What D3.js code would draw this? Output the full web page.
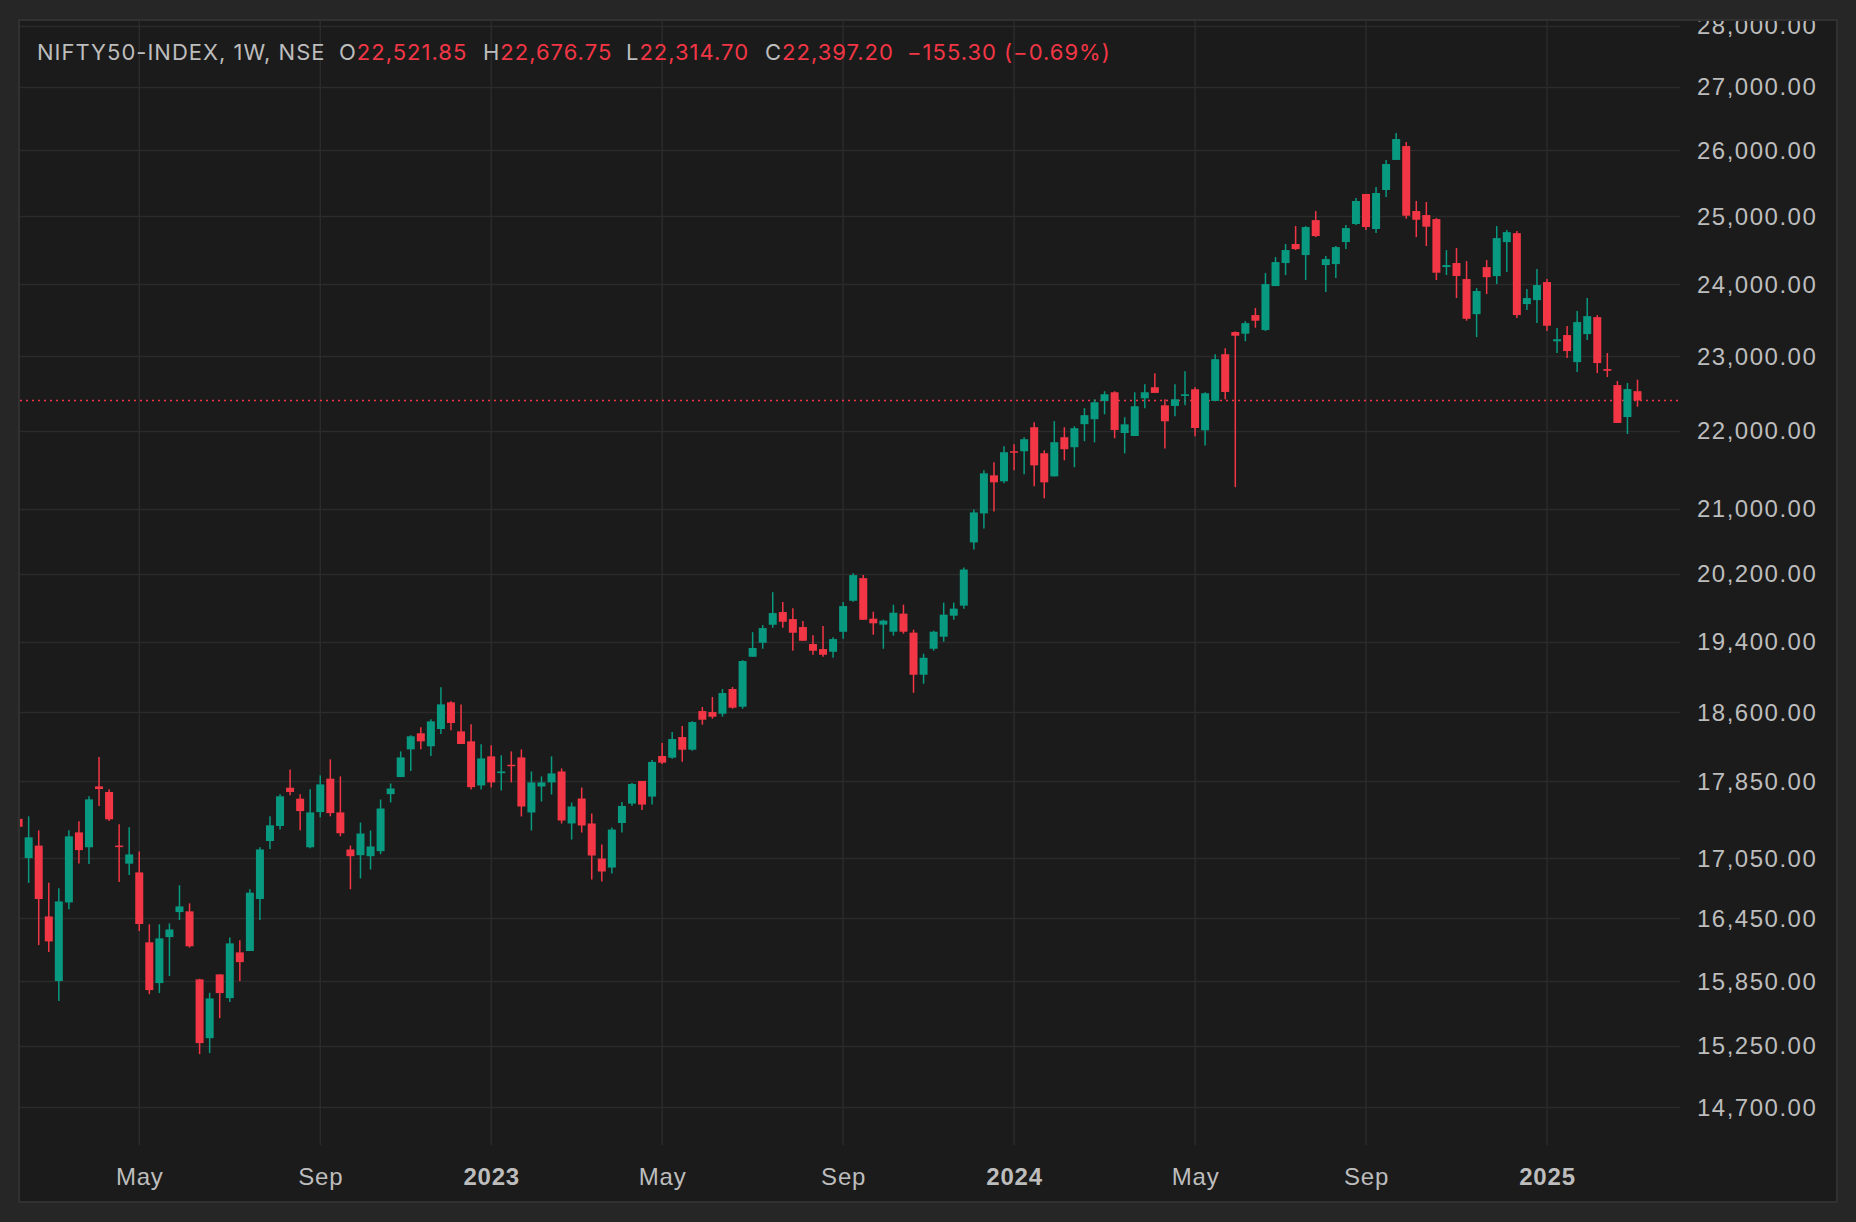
<!DOCTYPE html>
<html>
<head>
  <meta charset="utf-8">
  <title>NIFTY50-INDEX, 1W, NSE</title>
  <style>
    html, body { margin: 0; padding: 0; background: #262626; }
    svg { display: block; font-family: Inter, "Noto Sans", sans-serif; }
  </style>
</head>
<body>
  <script src="https://cdn.jsdelivr.net/npm/d3@7/dist/d3.min.js"></script>
  <script>
    // weekly candles (week start)
    var weeks = [
      "2022-02-07","2022-02-14","2022-02-21","2022-02-28","2022-03-07","2022-03-14","2022-03-21","2022-03-28",
      "2022-04-04","2022-04-11","2022-04-18","2022-04-25","2022-05-02","2022-05-09","2022-05-16","2022-05-23",
      "2022-05-30","2022-06-06","2022-06-13","2022-06-20","2022-06-27","2022-07-04","2022-07-11","2022-07-18",
      "2022-07-25","2022-08-01","2022-08-08","2022-08-15","2022-08-22","2022-08-29","2022-09-05","2022-09-12",
      "2022-09-19","2022-09-26","2022-10-03","2022-10-10","2022-10-17","2022-10-24","2022-10-31","2022-11-07",
      "2022-11-14","2022-11-21","2022-11-28","2022-12-05","2022-12-12","2022-12-19","2022-12-26",
      "2023-01-02","2023-01-09","2023-01-16","2023-01-23","2023-01-30","2023-02-06","2023-02-13","2023-02-20",
      "2023-02-27","2023-03-06","2023-03-13","2023-03-20","2023-03-27","2023-04-03","2023-04-10","2023-04-17",
      "2023-04-24","2023-05-01","2023-05-08","2023-05-15","2023-05-22","2023-05-29","2023-06-05","2023-06-12",
      "2023-06-19","2023-06-26","2023-07-03","2023-07-10","2023-07-17","2023-07-24","2023-07-31","2023-08-07",
      "2023-08-14","2023-08-21","2023-08-28","2023-09-04","2023-09-11","2023-09-18","2023-09-25","2023-10-02",
      "2023-10-09","2023-10-16","2023-10-23","2023-10-30","2023-11-06","2023-11-13","2023-11-20","2023-11-27",
      "2023-12-04","2023-12-11","2023-12-18","2023-12-25",
      "2024-01-01","2024-01-08","2024-01-15","2024-01-22","2024-01-29","2024-02-05","2024-02-12","2024-02-19",
      "2024-02-26","2024-03-04","2024-03-11","2024-03-18","2024-03-25","2024-04-01","2024-04-08","2024-04-15",
      "2024-04-22","2024-04-29","2024-05-06","2024-05-13","2024-05-20","2024-05-27","2024-06-03","2024-06-10",
      "2024-06-17","2024-06-24","2024-07-01","2024-07-08","2024-07-15","2024-07-22","2024-07-29","2024-08-05",
      "2024-08-12","2024-08-19","2024-08-26","2024-09-02","2024-09-09","2024-09-16","2024-09-23","2024-09-30",
      "2024-10-07","2024-10-14","2024-10-21","2024-10-28","2024-11-04","2024-11-11","2024-11-18","2024-11-25",
      "2024-12-02","2024-12-09","2024-12-16","2024-12-23","2024-12-30",
      "2025-01-06","2025-01-13","2025-01-20","2025-01-27","2025-02-03","2025-02-10","2025-02-17","2025-02-24",
      "2025-03-03","2025-03-10"
    ];

    var opens = [
      17456,17053,17180,16470,15848,16608,17316,17163,17797,17738,17180,16996,16908,16218,15829,16269,
      16513,16520,15864,15318,15911,15688,16121,16134,16642,17227,17382,17783,17667,17163,17527,17879,
      17523,17140,17082,17072,17123,17715,17896,18194,18369,18227,18416,18711,18390,18281,17807,
      18118,17938,18028,18107,17523,17796,17839,17956,17408,17669,17408,17048,16957,17413,17615,17855,
      17689,18122,18104,18328,18190,18614,18603,18584,18860,18662,19226,19387,19596,19745,19662,19569,
      19372,19314,19283,19514,19878,20148,19667,19597,19515,19726,19504,19021,19318,19457,19702,19820,
      20581,20940,21420,21344,
      21730,21730,22043,21704,21407,21912,21782,22083,22148,22391,22507,21967,21928,22426,22574,22333,
      22324,22458,22547,22003,22391,23023,23329,23306,23566,23357,23977,24308,24585,24424,24938,24279,
      24293,24614,24880,25329,24806,25389,25848,26063,25073,25013,24953,24250,24308,24077,23579,24249,
      24119,24613,24745,23721,23777,
      24034,23201,23287,22915,23301,23537,22820,22604,22177,22521.85
    ];

    var highs = [
      17639,17482,17337,16805,16748,17337,17430,17692,18111,17766,17399,17368,17120,16393,16393,16402,
      16779,16599,15870,15738,15911,16266,16237,16738,17163,17482,17713,17978,17713,17766,17914,18086,
      17903,17181,17418,17335,17658,17828,18172,18347,18435,18522,18879,18722,18688,18467,18249,
      18238,18129,18172,18194,17956,17903,18118,17989,17627,17785,17512,17191,17366,17633,17833,17855,
      18080,18263,18382,18448,18503,18658,18770,18860,18882,19188,19510,19592,19980,19862,19791,19639,
      19475,19580,19452,19862,20208,20184,19749,19655,19832,19832,19538,19260,19527,19856,19856,20275,
      20990,21484,21587,21795,
      21821,21912,22110,21743,22123,22043,22056,22295,22413,22521,22521,22174,22507,22615,22764,22413,
      22615,22791,22574,22507,23023,23105,23338,23481,23665,24164,24395,24585,24850,24850,25073,24410,
      24555,24865,25268,25329,25435,25848,26267,26125,25223,25208,24968,24497,24526,24337,23948,24351,
      24849,24790,24775,23934,24221,
      24077,23384,23412,23623,23806,23565,23039,22658,22631,22676.75
    ];

    var lows = [
      16810,16802,16192,16124,15660,16542,16999,16992,17590,17434,16812,16881,16327,15725,15735,15895,
      16435,16167,15173,15182,15502,15651,15848,16134,16435,17145,17347,17703,17337,17152,17472,17482,
      17276,16739,16847,16937,17093,17627,17896,17960,18194,18122,18361,18401,18252,17764,17764,
      17785,17754,17839,17481,17335,17637,17711,17408,17242,17314,16837,16816,16897,17314,17594,17549,
      17605,18036,18093,18061,18179,18463,18529,18551,18640,18640,19226,19318,19561,19561,19295,19410,
      19249,19226,19215,19433,19866,19654,19480,19318,19469,19492,18817,18919,19295,19399,19655,19785,
      20495,20753,20965,21318,
      21484,21433,21280,21129,21407,21613,21523,21860,21845,22214,21898,21702,21928,22293,22498,21767,
      22187,22333,21924,21806,22391,22413,21270,23202,23389,23343,23977,24135,24497,24063,24687,23892,
      24092,24511,24865,24791,24747,25283,25848,24958,24687,24555,24063,24135,23806,23487,23259,23863,
      24005,24177,23524,23636,23454,
      23342,23039,22970,22779,23218,22766,22712,22099,21954,22314.70
    ];

    var closes = [
      17374,17265,16642,16227,16618,17275,17134,17660,17769,17451,17167,17090,16396,15763,16256,16343,
      16569,16180,15273,15685,15735,16208,16028,16705,17141,17389,17692,17738,17537,17523,17818,17516,
      17307,17072,17304,17171,17564,17775,18107,18336,18281,18500,18688,18482,18252,17789,18096,
      17839,17956,18014,17585,17839,17839,17935,17439,17585,17387,17079,16917,17345,17591,17823,17605,
      18058,18050,18306,18190,18492,18518,18551,18815,18651,19177,19326,19557,19733,19631,19503,19410,
      19295,19249,19429,19815,20184,19654,19613,19644,19737,19515,19021,19214,19515,19714,19785,20251,
      20952,21446,21331,21717,
      21713,21886,21548,21331,21847,21756,22030,22202,22373,22480,22007,22081,22320,22507,22498,22121,
      22413,22480,22033,22494,22955,22511,23278,23453,23487,24005,24322,24497,24511,24835,24702,24366,
      24540,24820,25223,24835,25344,25785,26172,25003,24943,24840,24168,24279,24121,23514,23906,24104,
      24672,24760,23566,23806,23991,
      23417,23229,23066,23468,23551,22902,22797,22099,22550,22397.20
    ];

    // price axis ticks (TradingView log scale) and time axis marks
    var priceTicks = [14700, 15250, 15850, 16450, 17050, 17850, 18600, 19400, 20200,
                      21000, 22000, 23000, 24000, 25000, 26000, 27000, 28000];
    var timeTicks = ["2022-05-02","2022-09-05","2023-01-02","2023-05-01","2023-09-04",
                     "2024-01-01","2024-05-06","2024-09-02","2025-01-06"];
    var timeLabels = ["May","Sep","2023","May","Sep","2024","May","Sep","2025"];

    var lastClose = 22397.20;

    // header legend pieces
    var legendName = "NIFTY50-INDEX, 1W, NSE";
    var legendKeys = ["O", "H", "L", "C"];
    var legendVals = ["22,521.85", "22,676.75", "22,314.70", "22,397.20"];
    var legendChange = "\u2212155.30 (\u22120.69%)";

    // dimensions
    var width = 1856
    var height = 1222
    var panel = {left: 20, top: 21, right: 1836, bottom: 1201}
    var plot = {left: 20, top: 21, right: 1680, bottom: 1145}

    var up = "#089981", down = "#f23645"
    var textColor = "#bdbdbd", gridColor = "#2b2b2b"

    var parse_date = d3.timeParse("%Y-%m-%d")

    // x: weekly bars are evenly spaced in time, so a time scale works
    var x = d3.scaleTime()
      .domain([parse_date("2023-01-02"), parse_date("2025-01-06")])
      .range([491.2, 1547])

    // y: log price scale
    var y = d3.scaleLog()
      .domain([14700, 28000])
      .range([1107.3, 25.7])

    var data = weeks.map(function (w, i) {
      return {date: parse_date(w), open: opens[i], high: highs[i], low: lows[i], close: closes[i]}
    })

    var svg = d3.select("body").append("svg")
      .attr("width", width)
      .attr("height", height)

    svg.append("rect")
      .attr("width", width).attr("height", height)
      .attr("fill", "#262626")

    var defs = svg.append("defs")
    defs.append("clipPath").attr("id", "panel-clip")
      .append("rect")
      .attr("x", panel.left).attr("y", panel.top)
      .attr("width", panel.right - panel.left).attr("height", panel.bottom - panel.top)
    defs.append("clipPath").attr("id", "plot-clip")
      .append("rect")
      .attr("x", plot.left).attr("y", plot.top)
      .attr("width", plot.right - plot.left).attr("height", plot.bottom - plot.top)

    // chart panel
    svg.append("rect")
      .attr("x", panel.left - 1).attr("y", panel.top - 1)
      .attr("width", panel.right - panel.left + 2).attr("height", panel.bottom - panel.top + 2)
      .attr("fill", "#1b1b1b")
      .attr("stroke", "#313131")
      .attr("stroke-width", 2)

    var inner = svg.append("g").attr("clip-path", "url(#panel-clip)")
    var plotG = inner.append("g").attr("clip-path", "url(#plot-clip)")

    // grid lines
    plotG.append("g").selectAll("line")
      .data(priceTicks)
      .enter().append("line")
      .attr("x1", plot.left).attr("x2", plot.right)
      .attr("y1", function (d) { return Math.round(y(d)) + 0.5 })
      .attr("y2", function (d) { return Math.round(y(d)) + 0.5 })
      .attr("stroke", gridColor).attr("stroke-width", 1.5)

    plotG.append("g").selectAll("line")
      .data(timeTicks)
      .enter().append("line")
      .attr("x1", function (d) { return x(parse_date(d)) })
      .attr("x2", function (d) { return x(parse_date(d)) })
      .attr("y1", plot.top).attr("y2", plot.bottom)
      .attr("stroke", gridColor).attr("stroke-width", 1.5)

    // last price line (dotted)
    plotG.append("line")
      .attr("x1", plot.left).attr("x2", plot.right)
      .attr("y1", y(lastClose)).attr("y2", y(lastClose))
      .attr("stroke", down).attr("stroke-width", 1.5)
      .attr("stroke-dasharray", "2,4")

    // candles
    var barW = 8
    var candles = plotG.append("g").selectAll("g")
      .data(data)
      .enter().append("g")

    candles.append("line")
      .attr("x1", function (d) { return x(d.date) })
      .attr("x2", function (d) { return x(d.date) })
      .attr("y1", function (d) { return y(d.high) })
      .attr("y2", function (d) { return y(d.low) })
      .attr("stroke", function (d) { return d.close >= d.open ? up : down })
      .attr("stroke-width", 1.5)

    candles.append("rect")
      .attr("x", function (d) { return x(d.date) - barW / 2 })
      .attr("y", function (d) { return y(Math.max(d.open, d.close)) })
      .attr("width", barW)
      .attr("height", function (d) { return Math.max(1.5, Math.abs(y(d.open) - y(d.close))) })
      .attr("fill", function (d) { return d.close >= d.open ? up : down })

    // price axis on the right
    var yAxis = d3.axisRight(y)
      .tickValues(priceTicks)
      .tickFormat(d3.format(",.2f"))
      .tickSize(0)
      .tickPadding(0)

    var yAxisG = inner.append("g")
      .attr("id", "y_axis")
      .attr("transform", "translate(1697,0)")
      .call(yAxis)
    yAxisG.select(".domain").remove()
    yAxisG.selectAll("text")
      .attr("fill", textColor)
      .attr("font-size", 24)
      .attr("letter-spacing", 1.5)
      .attr("dy", "0.34em")

    // time axis at the bottom
    var xAxis = d3.axisBottom(x)
      .tickValues(timeTicks.map(parse_date))
      .tickFormat(function (d, i) { return timeLabels[i] })
      .tickSize(0)
      .tickPadding(0)

    var xAxisG = inner.append("g")
      .attr("id", "x_axis")
      .attr("transform", "translate(0,1176)")
      .call(xAxis)
    xAxisG.select(".domain").remove()
    xAxisG.selectAll("text")
      .attr("fill", textColor)
      .attr("font-size", 24)
      .attr("letter-spacing", 0.8)
      .attr("dy", "0.36em")
      .attr("font-weight", function (d, i) { return /^\d+$/.test(timeLabels[i]) ? 700 : 400 })

    // legend on top
    var legend = inner.append("text")
      .attr("y", 59.5)
      .attr("font-size", 22)
      .attr("letter-spacing", 1)
      .attr("fill", textColor)
    legend.append("tspan").attr("x", 37).text(legendName)
    var keyX = [339, 483, 626, 765]
    legendKeys.forEach(function (k, i) {
      legend.append("tspan").attr("x", keyX[i]).text(k)
      legend.append("tspan").attr("fill", down).text(legendVals[i])
    })
    legend.append("tspan").attr("x", 907).attr("fill", down).text(legendChange)
  </script>
</body>
</html>
